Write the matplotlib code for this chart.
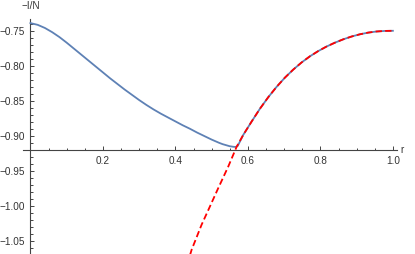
import numpy as np
import matplotlib.pyplot as plt
from matplotlib.ticker import FixedLocator

# values
# blue curve, left part (before it meets the red one)
blue_r = [0.0, 0.02, 0.04, 0.06, 0.08, 0.10, 0.12, 0.14, 0.16, 0.18, 0.20,
          0.22, 0.24, 0.26, 0.28, 0.30, 0.32, 0.34, 0.36, 0.38, 0.40, 0.42,
          0.44, 0.46, 0.48, 0.50, 0.52, 0.53, 0.54, 0.55, 0.56, 0.566, 0.572]
blue_v = [-0.738, -0.7405, -0.745, -0.751, -0.758, -0.766, -0.7745, -0.783,
          -0.7915, -0.800, -0.8085, -0.817, -0.825, -0.833, -0.8405, -0.848,
          -0.855, -0.8615, -0.8675, -0.873, -0.8785, -0.884, -0.889, -0.8945,
          -0.8995, -0.9045, -0.909, -0.911, -0.9125, -0.914, -0.9148, -0.915,
          -0.9135]
# red dashed curve (the blue one follows it past r ~ 0.575)
red_r = [0.440, 0.4446, 0.472, 0.495, 0.518, 0.5457, 0.569, 0.587, 0.610,
         0.633, 0.656, 0.679, 0.702, 0.725, 0.748, 0.771, 0.794, 0.817,
         0.840, 0.863, 0.886, 0.909, 0.932, 0.955, 0.978, 1.0]
red_v = [-1.070, -1.0621, -1.0264, -1.0003, -0.974, -0.9431, -0.9146,
         -0.8979, -0.8789, -0.8605, -0.8440, -0.8292, -0.8160, -0.8045,
         -0.7943, -0.7855, -0.7780, -0.7715, -0.7660, -0.7612, -0.7572,
         -0.7540, -0.7516, -0.7500, -0.7492, -0.7490]

tail_r = [r for r in red_r if r > 0.58]
tail_v = [v for r, v in zip(red_r, red_v) if r > 0.58]

plt.rcParams['font.family'] = ['Liberation Sans', 'DejaVu Sans']
axis_col = '#444444'
text_col = '#333333'

fig = plt.figure(figsize=(4.15, 2.54), dpi=100)
ax = fig.add_axes([0, 0, 1, 1])
ax.patch.set_alpha(0)

ax.plot(blue_r + tail_r, blue_v + tail_v, color='#5E81B5', lw=1.3,
        solid_joinstyle='round', zorder=3)
ax.plot(red_r, red_v, color='#FF0000', lw=1.3, linestyle=(0, (3.5, 1.8)),
        zorder=4)

ax.set_xlim(-0.084, 1.061)
ax.set_ylim(-1.068, -0.705)

for side in ['top', 'right']:
    ax.spines[side].set_visible(False)
ax.spines['left'].set_position(('data', 0))
ax.spines['bottom'].set_position(('data', -0.92))
ax.spines['left'].set_bounds(-1.068, -0.732)
ax.spines['bottom'].set_bounds(-0.021, 1.011)
for side in ['left', 'bottom']:
    ax.spines[side].set_color(axis_col)
    ax.spines[side].set_linewidth(0.8)

x_major = [0.2, 0.4, 0.6, 0.8, 1.0]
y_major = [-0.75, -0.80, -0.85, -0.90, -0.95, -1.00, -1.05]
ax.set_xticks(x_major)
ax.set_xticklabels(['0.2', '0.4', '0.6', '0.8', '1.0'])
ax.set_yticks(y_major)
ax.set_yticklabels(['\u22120.75', '\u22120.80', '\u22120.85', '\u22120.90',
                    '\u22120.95', '\u22121.00', '\u22121.05'])
x_minor = [round(v, 2) for v in np.arange(0.05, 1.001, 0.05)
           if min(abs(v - m) for m in x_major) > 1e-6]
y_minor = [round(v, 2) for v in np.arange(-1.06, -0.7399, 0.01)
           if min(abs(v - m) for m in y_major) > 1e-6 and abs(v + 0.92) > 1e-6]
ax.xaxis.set_minor_locator(FixedLocator(x_minor))
ax.yaxis.set_minor_locator(FixedLocator(y_minor))
ax.tick_params(which='both', direction='in', colors=axis_col,
               labelcolor=text_col, labelsize=7.2, width=0.7)
ax.tick_params(which='major', length=3.2)
ax.tick_params(which='minor', length=1.8)
ax.tick_params(axis='x', pad=4)
ax.tick_params(axis='y', pad=4)

ax.text(0.0, -0.7135, '\u2212I/N', ha='center', va='center', fontsize=7.2,
        color=text_col)
ax.text(1.02, -0.92, 'r', ha='left', va='center', fontsize=7.2,
        color=text_col)

fig.savefig('out.png', dpi=100)
